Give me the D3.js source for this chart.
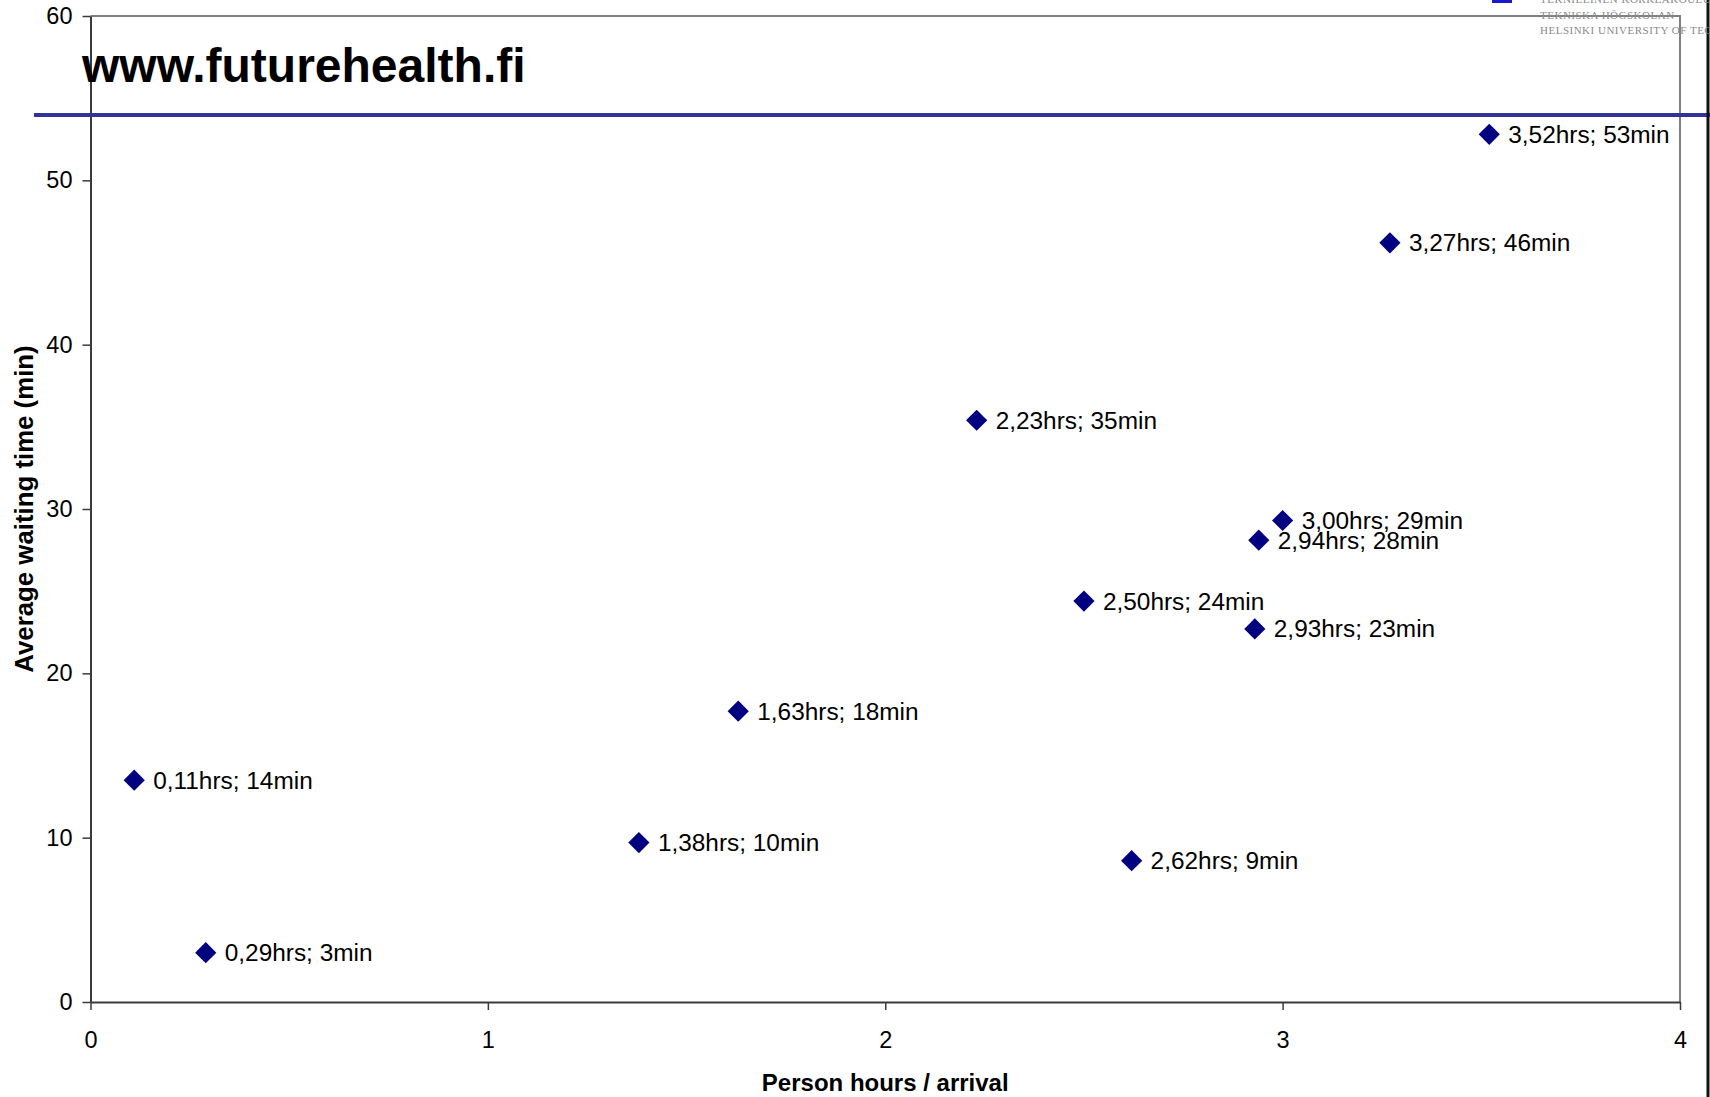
<!DOCTYPE html>
<html>
<head>
<meta charset="utf-8">
<script src="https://cdn.jsdelivr.net/npm/d3@7"></script>
<style>
  body { margin: 0; background: #fff; }
  svg { display: block; font-family: "Liberation Sans", Arial, sans-serif; }
</style>
</head>
<body>
<svg id="chart" width="1710" height="1097"></svg>
<script>
// person hours per arrival (x) and average waiting time in minutes (y)
var hours = [0.11, 0.29, 1.38, 1.63, 2.23, 2.50, 2.62, 2.93, 2.94, 3.00, 3.27, 3.52];
var waits = [13.5, 3.0, 9.7, 17.7, 35.4, 24.4, 8.6, 22.7, 28.1, 29.3, 46.2, 52.8];
var pointLabels = [
  "0,11hrs; 14min", "0,29hrs; 3min", "1,38hrs; 10min", "1,63hrs; 18min",
  "2,23hrs; 35min", "2,50hrs; 24min", "2,62hrs; 9min", "2,93hrs; 23min",
  "2,94hrs; 28min", "3,00hrs; 29min", "3,27hrs; 46min", "3,52hrs; 53min"
];
var xTicks = [0, 1, 2, 3, 4];
var yTicks = [0, 10, 20, 30, 40, 50, 60];
var logoLines = ["TEKNILLINEN KORKEAKOULU", "TEKNISKA HÖGSKOLAN", "HELSINKI UNIVERSITY OF TECHNOLOGY"];

var svg = d3.select("#chart");

// plot area
var plotLeft = 90.5, plotRight = 1680, plotTop = 16, plotBottom = 1002;

var x = d3.scaleLinear().domain([0, 4]).range([plotLeft, plotRight]);
var y = d3.scaleLinear().domain([0, 60]).range([plotBottom, plotTop]);

/* ---------- frame ---------- */
svg.append("path")
    .attr("d", "M" + plotLeft + "," + plotTop + "H" + plotRight + "V" + plotBottom)
    .attr("fill", "none")
    .attr("stroke", "#808080")
    .attr("stroke-width", 2);

/* ---------- axes ---------- */
var yAxis = svg.append("g")
    .attr("transform", "translate(" + plotLeft + ",0)")
    .call(d3.axisLeft(y).tickValues(yTicks).tickFormat(d3.format("d"))
        .tickSize(8).tickPadding(10).tickSizeOuter(0));

var xAxis = svg.append("g")
    .attr("transform", "translate(0," + plotBottom + ")")
    .call(d3.axisBottom(x).tickValues(xTicks).tickFormat(d3.format("d"))
        .tickSize(8).tickPadding(21).tickSizeOuter(0));

[yAxis, xAxis].forEach(function (ax) {
    ax.select(".domain").attr("stroke", "#3a3a3a").attr("stroke-width", 2);
    ax.selectAll(".tick line").attr("stroke", "#3a3a3a").attr("stroke-width", 1.5);
    ax.selectAll(".tick text")
        .attr("fill", "#000")
        .style("font-family", "'Liberation Sans', Arial, sans-serif")
        .style("font-size", "23.5px");
});

/* ---------- axis titles ---------- */
svg.append("text")
    .attr("x", (plotLeft + plotRight) / 2)
    .attr("y", 1091)
    .attr("text-anchor", "middle")
    .style("font-weight", "bold")
    .style("font-size", "24px")
    .text("Person hours / arrival");

svg.append("text")
    .attr("transform", "translate(33," + 509 + ") rotate(-90)")
    .attr("text-anchor", "middle")
    .style("font-weight", "bold")
    .style("font-size", "25.8px")
    .text("Average waiting time (min)");

/* ---------- header decorations ---------- */
svg.append("line")
    .attr("x1", 34).attr("x2", 1710)
    .attr("y1", 115).attr("y2", 115)
    .attr("stroke", "#333399")
    .attr("stroke-width", 4);

svg.append("text")
    .attr("x", 82)
    .attr("y", 82)
    .style("font-weight", "bold")
    .style("font-size", "48px")
    .attr("fill", "#000")
    .text("www.futurehealth.fi");

// right edge line
svg.append("line")
    .attr("x1", 1708).attr("x2", 1708)
    .attr("y1", 0).attr("y2", 1097)
    .attr("stroke", "#111")
    .attr("stroke-width", 3);

// university logo (cut at the corner)
svg.append("rect")
    .attr("x", 1492).attr("y", 0)
    .attr("width", 20).attr("height", 3)
    .attr("fill", "#1a1acc");

svg.selectAll(".logo")
    .data(logoLines)
    .enter().append("text")
    .attr("class", "logo")
    .attr("x", 1540)
    .attr("y", function (d, i) { return 3 + i * 15.5; })
    .attr("fill", "#8a8a8a")
    .style("font-family", "'Liberation Serif', 'Times New Roman', serif")
    .style("font-size", "11px")
    .style("letter-spacing", "0.5px")
    .text(function (d) { return d; });

/* ---------- points ---------- */
var pts = hours.map(function (h, i) {
    return { h: h, w: waits[i], label: pointLabels[i] };
});

var diamond = d3.symbol().type(d3.symbolSquare).size(15 * 15);

svg.selectAll(".pt")
    .data(pts)
    .enter().append("path")
    .attr("class", "pt")
    .attr("d", diamond)
    .attr("transform", function (d) {
        return "translate(" + x(d.h) + "," + y(d.w) + ") rotate(45)";
    })
    .attr("fill", "#000080");

svg.selectAll(".lbl")
    .data(pts)
    .enter().append("text")
    .attr("class", "lbl")
    .attr("x", function (d) { return x(d.h) + 19; })
    .attr("y", function (d) { return y(d.w) + 8.5; })
    .style("font-size", "24.4px")
    .attr("fill", "#000")
    .text(function (d) { return d.label; });
</script>
</body>
</html>
